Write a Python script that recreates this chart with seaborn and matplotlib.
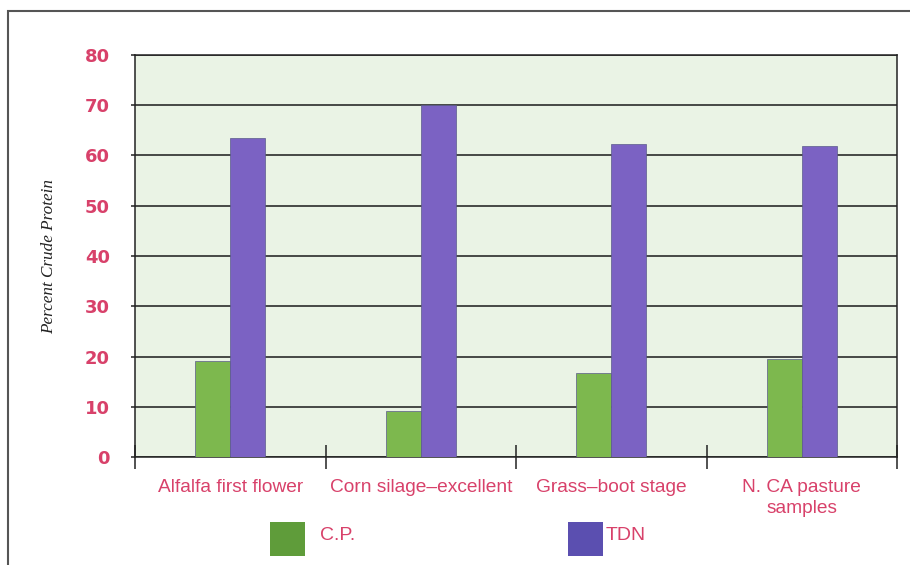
import matplotlib
matplotlib.use("Agg")
import matplotlib.pyplot as plt
from matplotlib.patches import Rectangle
from matplotlib.ticker import FixedLocator
import seaborn as sns
import pandas as pd

# 데이터
feeds = ["Alfalfa first flower", "Corn silage\u2013excellent", "Grass\u2013boot stage", "N. CA pasture\nsamples"]
series = ["C.P.", "TDN"]
cp_values = [19.2, 9.1, 16.8, 19.6]
tdn_values = [63.4, 70.0, 62.3, 61.8]
y_ticks = [0, 10, 20, 30, 40, 50, 60, 70, 80]

bar_colors = ["#7db84e", "#7b62c3"]
legend_colors = ["#5f9c3a", "#5b4fb0"]
label_red = "#d8416a"

df = pd.DataFrame({
    "feed": feeds * 2,
    "series": [series[0]] * 4 + [series[1]] * 4,
    "value": cp_values + tdn_values,
})

sns.set_style("white")
plt.rcParams["font.family"] = ["Liberation Sans", "DejaVu Sans"]

fig = plt.figure(figsize=(9.1, 5.65), dpi=100)
fig.patch.set_facecolor("white")
ax = fig.add_axes([135 / 910, 108 / 565, 762 / 910, 402 / 565])
ax.set_facecolor("#eaf3e5")

sns.barplot(data=df, x="feed", y="value", hue="series", palette=bar_colors,
            saturation=1, width=0.37, dodge=True, ax=ax, legend=False,
            zorder=3, edgecolor="#5a5a8a", linewidth=0.5)

ax.set_xlim(-0.5, 3.5)
ax.set_ylim(0, 80)
ax.set_yticks(y_ticks)
ax.set_yticklabels([str(t) for t in y_ticks])
ax.grid(axis="y", color="#1a1a1a", linewidth=1.1, zorder=1)
ax.set_axisbelow(True)

# 축 스타일
for s in ax.spines.values():
    s.set_color("#222222")
    s.set_linewidth(1.1)
ax.tick_params(axis="y", left=True, length=3, color="#222222", width=1.1,
               labelsize=13, labelcolor=label_red, pad=15)
for lbl in ax.get_yticklabels():
    lbl.set_fontfamily("DejaVu Sans")
    lbl.set_fontweight("semibold")
ax.tick_params(axis="x", which="major", bottom=False, length=0, pad=16,
               labelsize=13.8, labelcolor=label_red)
for lbl in ax.get_xticklabels():
    lbl.set_verticalalignment("top")
    lbl.set_linespacing(1.3)
ax.xaxis.set_minor_locator(FixedLocator([-0.5, 0.5, 1.5, 2.5, 3.5]))
ax.tick_params(axis="x", which="minor", bottom=True, length=17,
               direction="inout", color="#222222", width=1.1)

ax.set_xlabel("")
ax.set_ylabel("Percent Crude Protein", fontsize=12.3, style="italic",
              family="Liberation Serif", color="#222222")
ax.yaxis.set_label_coords(-0.102, 0.5)

# 범례
for i, (name, col) in enumerate(zip(series, legend_colors)):
    x0 = [270, 568][i]
    fig.patches.append(Rectangle((x0 / 910, (565 - 556) / 565), 35 / 910, 34 / 565,
                                 transform=fig.transFigure, facecolor=col,
                                 edgecolor="none"))
    fig.text([320, 606][i] / 910, (565 - 535) / 565, name, color=label_red,
             fontsize=14, va="center", ha="left")

# 바깥 테두리
fig.patches.append(Rectangle((8 / 910, -0.1), 1.2, (565 - 11) / 565 + 0.1,
                             transform=fig.transFigure, facecolor="none",
                             edgecolor="#555555", linewidth=1.5))

fig.savefig("out.png", dpi=100)
